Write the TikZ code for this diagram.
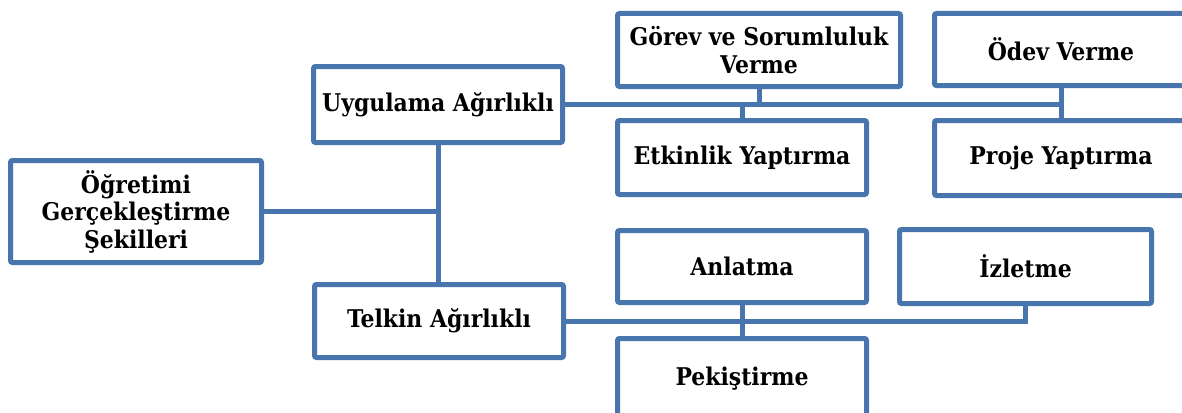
\documentclass[tikz,border=0pt]{standalone}
\usepackage{fontspec}
\setmainfont{DejaVu Serif Condensed}
\definecolor{boxblue}{RGB}{72, 117, 173}
\usetikzlibrary{positioning}
\tikzset{
	kutu/.style={rectangle, rounded corners=2pt, draw=boxblue, fill=white, line width=5pt, align=center, inner sep=2pt, font=\fontsize{24.4}{27.5}\selectfont\bfseries},
	bag/.style={draw=boxblue, line width=5pt},
}

\begin{document}
\begin{tikzpicture}[x=1pt, y=-1pt]
		\clip (0,0) rectangle (1182,412);
		\node[kutu, minimum width=251pt, minimum height=102pt] (sekil) at (136,211.5) {Öğretimi\\Gerçekleştirme\\Şekilleri};
		\node[kutu, minimum width=249pt, minimum height=76pt] (uyg) at (438,104.5) {Uygulama Ağırlıklı};
		\node[kutu, minimum width=249pt, minimum height=73pt] (telkin) at (439,321) {Telkin Ağırlıklı};
		\node[kutu, minimum width=283pt, minimum height=73pt] (gorev) at (759,50) {Görev ve Sorumluluk\\Verme};
		\node[kutu, minimum width=253pt, minimum height=72pt] (odev) at (1061,49.5) {Ödev Verme};
		\node[kutu, minimum width=249pt, minimum height=74pt] (etkinlik) at (742,157.5) {Etkinlik Yaptırma};
		\node[kutu, minimum width=253pt, minimum height=75pt] (proje) at (1061,158) {Proje Yaptırma};
		\node[kutu, minimum width=249pt, minimum height=72pt] (anlatma) at (742,266.5) {Anlatma};
		\node[kutu, minimum width=252pt, minimum height=74pt] (izletme) at (1025.5,266.5) {İzletme};
		\node[kutu, minimum width=249pt, minimum height=80pt] (pekis) at (742,378.5) {Pekiştirme};
		\draw[bag] (sekil.east) -- (sekil.east -| uyg.south);
		\draw[bag] (uyg.south) -- (telkin.north -| uyg.south);
		\draw[bag] (uyg.east) -- (uyg.east -| odev.south) -- (odev.south);
		\draw[bag] (odev.south) -- (proje.north);
		\draw[bag] (gorev.south) -- (gorev.south |- uyg.east);
		\draw[bag] (etkinlik.north) -- (etkinlik.north |- uyg.east);
		\draw[bag] (telkin.east) -- (telkin.east -| izletme.south) -- (izletme.south);
		\draw[bag] (anlatma.south) -- (pekis.north);
	\end{tikzpicture}
\end{document}
